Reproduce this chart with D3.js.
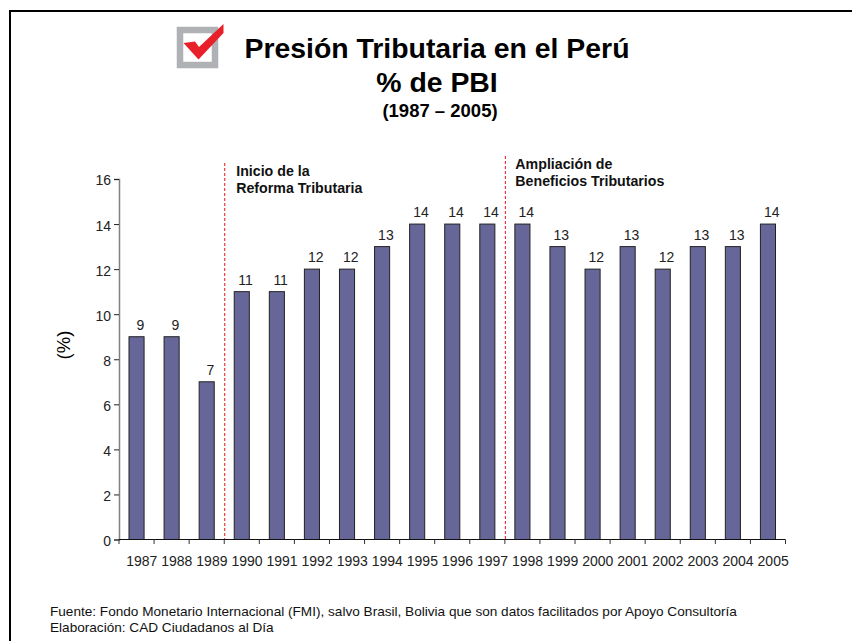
<!DOCTYPE html>
<html><head><meta charset="utf-8">
<script src="https://cdn.jsdelivr.net/npm/d3@7"></script>
<style>html,body{margin:0;padding:0;background:#fff}svg{display:block}text{font-family:"Liberation Sans",Arial,sans-serif}</style>
</head><body><svg id="c" width="852" height="641"></svg>
<script>
const years=[1987,1988,1989,1990,1991,1992,1993,1994,1995,1996,1997,1998,1999,2000,2001,2002,2003,2004,2005];
const values=[9,9,7,11,11,12,12,13,14,14,14,14,13,12,13,12,13,13,14];
const yTicks=[0,2,4,6,8,10,12,14,16];
const reforms=[
 {after:1989,dx:11.5,y0:176,top:163,lines:["Inicio de la","Reforma Tributaria"]},
 {after:1997,dx:10,y0:169,top:156,lines:["Ampliación de","Beneficios Tributarios"]}];
const footnotes=["Fuente: Fondo Monetario Internacional (FMI), salvo Brasil, Bolivia que son datos facilitados por Apoyo Consultoría","Elaboración: CAD Ciudadanos al Día"];

const svg=d3.select("#c");
// frame
svg.append("line").attr("x1",9).attr("x2",852).attr("y1",11).attr("y2",11).attr("stroke","#000").attr("stroke-width",2);
svg.append("line").attr("x1",10).attr("x2",10).attr("y1",10).attr("y2",641).attr("stroke","#000").attr("stroke-width",2);

// icon
const ic=svg.append("g");
ic.append("rect").attr("x",180).attr("y",30).attr("width",35).attr("height",35).attr("fill","none").attr("stroke","#b0b1b5").attr("stroke-width",6.5);
ic.append("path").attr("d","M183.5 43 L195 41.5 L199 47 L223.5 24 L223.5 33 L198.5 59.5 Z").attr("fill","#e8202a");

const title=[["Presión Tributaria en el Perú",437,58,28.4],["% de PBI",437,92,28.4],["(1987 – 2005)",440,117,18.5]];
title.forEach(([t,tx,ty,s])=>svg.append("text").attr("x",tx).attr("y",ty).attr("text-anchor","middle").attr("font-size",s).attr("font-weight","bold").attr("fill","#000").text(t));

const x=d3.scaleBand().domain(years).range([119,785.5]).paddingInner(0.57).paddingOuter(0.285);
const y=d3.scaleLinear().domain([0,16]).range([539.5,179]);

svg.append("g").selectAll("rect").data(years).join("rect")
 .attr("x",d=>x(d)).attr("width",x.bandwidth())
 .attr("y",(d,i)=>y(values[i])).attr("height",(d,i)=>y(0)-y(values[i]))
 .attr("fill","#666699").attr("stroke","#222").attr("stroke-width",1);

const yAxis=d3.axisLeft(y).tickValues(yTicks).tickSize(5).tickPadding(3);
const gy=svg.append("g").attr("transform","translate(119,0)").call(yAxis);
gy.selectAll("text").attr("font-size",14).attr("fill","#222").attr("transform","translate(0,1.5)");
gy.selectAll("line,path").attr("stroke","#808080");
gy.select("path").attr("stroke-width",1.500);
gy.selectAll("line").attr("stroke","#222");

// x axis with ticks between categories
const step=x.step();
const gx=svg.append("g");
gx.append("line").attr("x1",119).attr("x2",785.5).attr("y1",y(0)).attr("y2",y(0)).attr("stroke","#111");
gx.selectAll("line.t").data(years.concat(["end"])).join("line").attr("class","t")
 .attr("x1",(d,i)=>119+i*step).attr("x2",(d,i)=>119+i*step).attr("y1",y(0)).attr("y2",y(0)+4.5).attr("stroke","#333");
gx.selectAll("text").data(years).join("text")
 .attr("x",d=>x(d)+x.bandwidth()/2+5.2).attr("y",566).attr("text-anchor","middle").attr("font-size",14).attr("fill","#222").text(d=>d);

svg.append("g").selectAll("text").data(years).join("text")
 .attr("x",d=>x(d)+x.bandwidth()/2+3.8).attr("y",(d,i)=>y(values[i])-7).attr("text-anchor","middle").attr("font-size",14).attr("fill","#222").text((d,i)=>values[i]);

svg.append("text").attr("transform","translate(70,345) rotate(-90)").attr("text-anchor","middle").attr("font-size",18.5).attr("fill","#000").text("(%)");

reforms.forEach(r=>{
 const lx=x(r.after)+x.bandwidth()+(step-x.bandwidth())/2+0.5;
 svg.append("line").attr("x1",lx).attr("x2",lx).attr("y1",r.top).attr("y2",539).attr("stroke","#f5101c").attr("stroke-width",1).attr("stroke-dasharray","3 2");
 r.lines.forEach((t,i)=>svg.append("text").attr("x",lx+r.dx).attr("y",r.y0+i*17).attr("font-size",14.2).attr("font-weight","bold").attr("fill","#111").text(t));
});

footnotes.forEach((t,i)=>svg.append("text").attr("x",50).attr("y",615.5+i*16).attr("font-size",13.6).attr("fill","#111").text(t));
</script></body></html>
